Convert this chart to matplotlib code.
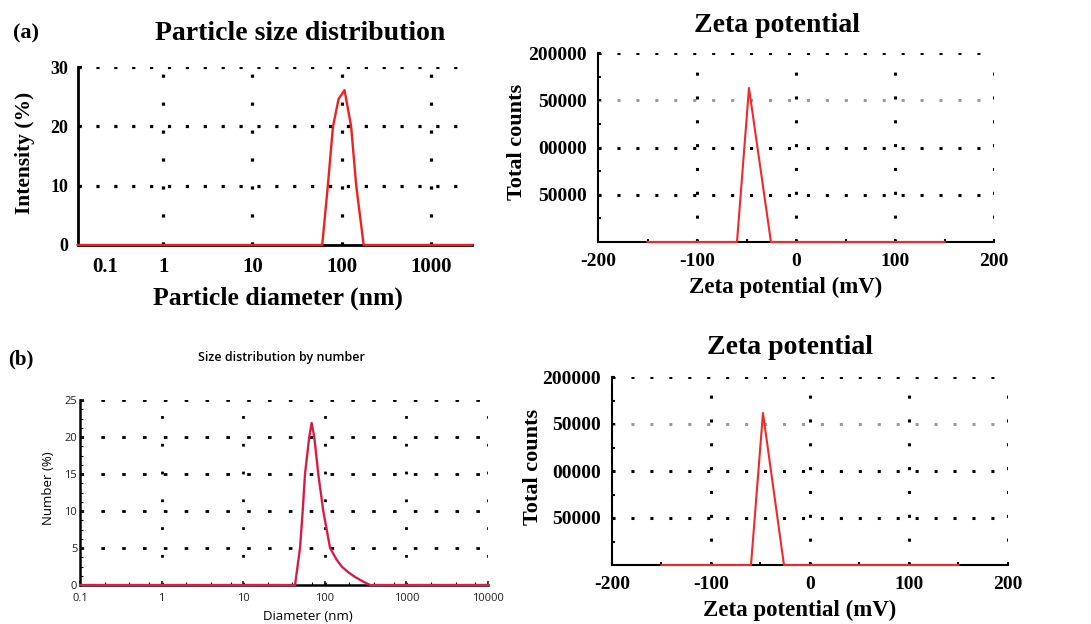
import numpy as np
import matplotlib
matplotlib.use("Agg")
import matplotlib.pyplot as plt
from matplotlib.ticker import FixedLocator, NullFormatter

plt.rcParams["axes.unicode_minus"] = False

# (a) particle size distribution by intensity
size_a = [0.11, 60.7, 70, 80, 92.5, 108, 128, 146, 177, 2900]
intensity_a = [0, 0, 9.8, 19.9, 24.6, 26.1, 20, 10, 0, 0]

# (b) size distribution by number
size_b = [0.1, 43.2, 49.7, 53.6, 57.2, 64.5, 69, 74.3, 83.2, 95.8, 116, 140, 161, 195, 234, 290, 360, 10000]
number_b = [0, 0, 5, 10, 15, 20, 21.9, 20, 15, 10, 5, 3.4, 2.5, 1.7, 1.1, 0.5, 0, 0]

# zeta potential curves
zeta_top = [-150, -59.6, -47.5, -25.3, 150]
counts_top = [0, 0, 163000, 0, 0]
zeta_bot = [-150, -59.6, -47.5, -26.3, 150]
counts_bot = [0, 0, 161700, 0, 0]

zeta_ticks = [-200, -100, 0, 100, 200]
count_ticks = [50000, 100000, 150000, 200000]
count_labels = ["50000", "00000", "50000", "200000"]

SERIF = "Liberation Serif"
SANS = "Open Sans"

fig = plt.figure(figsize=(10.91, 6.24), dpi=100)
W, H = 1091, 624


def box(l, t, r, b):
    return [l / W, 1 - b / H, (r - l) / W, (b - t) / H]


def ftext(x, y, s, **kw):
    fig.text(x / W, 1 - y / H, s, ha="center", va="center", **kw)


def dotted_grid(ax, xs, ys, hstyle, vstyle, lw=2.3, color="black"):
    for y in ys:
        ax.axhline(y, color=color, lw=lw, ls=hstyle, zorder=1)
    for x in xs:
        ax.axvline(x, color=color, lw=lw, ls=vstyle, zorder=1)


def clean(ax, lw):
    for s in ["top", "right"]:
        ax.spines[s].set_visible(False)
    for s in ["left", "bottom"]:
        ax.spines[s].set_linewidth(lw)
        ax.spines[s].set_zorder(2)


# ---------------- (a) ----------------
ax1 = fig.add_axes(box(78, 67, 472, 245))
ax1.set_xscale("log")
ax1.set_xlim(0.111, 2900)
ax1.set_ylim(0, 30)
dotted_grid(ax1, [1, 10, 100, 1000], [10, 20, 30], (0, (1, 4.6)), (0, (1, 7.75)))
ax1.plot(size_a, intensity_a, color="#ee2020", lw=1.7, zorder=3, clip_on=False)
clean(ax1, 2.0)
ax1.xaxis.set_major_locator(FixedLocator([1, 10, 100, 1000]))
ax1.xaxis.set_minor_locator(FixedLocator([]))
ax1.set_xticklabels(["1", "10", "100", "1000"])
ax1.set_yticks([0, 10, 20, 30])
ax1.tick_params(axis="x", length=0, pad=9, labelsize=15)
ax1.tick_params(axis="y", length=3, width=1.5, direction="in", pad=7, labelsize=13)
for lab in ax1.get_xticklabels() + ax1.get_yticklabels():
    lab.set_fontfamily(SERIF)
    lab.set_fontweight("bold")
ax1.text(0.069, -0.07, "0.1", transform=ax1.transAxes, ha="center", va="top",
         fontsize=15, fontfamily=SERIF, fontweight="bold")
ftext(26, 33, "(a)", fontsize=16, fontfamily=SERIF, fontweight="bold")
ftext(300, 33, "Particle size distribution", fontsize=20, fontfamily=SERIF, fontweight="bold")
ftext(25, 153, "Intensity (%)", fontsize=15.5, fontfamily=SERIF, fontweight="bold", rotation=90)
ftext(278, 298, "Particle diameter (nm)", fontsize=18.5, fontfamily=SERIF, fontweight="bold")


# ---------------- zeta panels ----------------
def zeta_panel(rect, xs, ys, title_xy, ylab_xy, xlab_xy):
    ax = fig.add_axes(rect)
    ax.set_xlim(-200, 200)
    ax.set_ylim(0, 200000)
    for y in count_ticks:
        c = "#9a9a9a" if y == 150000 else "black"
        ax.axhline(y, color=c, lw=2.2, ls=(0, (1, 5.2)), zorder=1)
    for x in [-100, 0, 100, 200]:
        ax.axvline(x, color="black", lw=2.2, ls=(0, (1, 6.8)), zorder=1)
    ax.plot(xs, ys, color="#ee2a2a", lw=1.5, zorder=3, clip_on=False)
    clean(ax, 1.5)
    ax.set_xticks(zeta_ticks)
    ax.set_xticks([-150, -50, 50, 150], minor=True)
    ax.set_yticks(count_ticks)
    ax.set_yticklabels(count_labels)
    ax.set_yticks([25000, 75000, 125000, 175000], minor=True)
    ax.tick_params(axis="both", which="major", length=2, width=1.5, direction="in",
                   labelsize=14)
    ax.tick_params(axis="both", which="minor", length=2, width=1.5, direction="in")
    ax.tick_params(axis="x", pad=8)
    ax.tick_params(axis="y", pad=8)
    for lab in ax.get_xticklabels() + ax.get_yticklabels():
        lab.set_fontfamily(SERIF)
        lab.set_fontweight("bold")
    ftext(*title_xy, "Zeta potential", fontsize=20, fontfamily=SERIF, fontweight="bold")
    ftext(*ylab_xy, "Total counts", fontsize=16, fontfamily=SERIF, fontweight="bold", rotation=90)
    ftext(*xlab_xy, "Zeta potential (mV)", fontsize=16.5, fontfamily=SERIF, fontweight="bold")
    return ax


zeta_panel(box(598, 53, 994, 242), zeta_top, counts_top, (777, 25), (517, 142), (786, 287))
zeta_panel(box(612, 377, 1008, 565), zeta_bot, counts_bot, (790, 347), (533, 467), (800, 610))

# ---------------- (b) ----------------
ax3 = fig.add_axes(box(80, 400, 488, 585))
ax3.set_xscale("log")
ax3.set_xlim(0.1, 10000)
ax3.set_ylim(0, 25)
dotted_grid(ax3, [1, 10, 100, 1000, 10000], [5, 10, 15, 20, 25],
            (0, (1.3, 6.2)), (0, (1, 9.0)), lw=2.0)
ax3.plot(size_b, number_b, color="#e8204e", lw=1.7, zorder=3, clip_on=False)
ax3.plot(size_b, number_b, color="#5a1020", lw=0.5, ls=(0, (1, 2)), zorder=4)
clean(ax3, 1.8)
ax3.xaxis.set_major_locator(FixedLocator([0.1, 1, 10, 100, 1000, 10000]))
ax3.xaxis.set_minor_locator(FixedLocator([0.2, 0.4, 0.7, 2, 4, 7, 20, 40, 70,
                                          200, 400, 700, 2000, 4000, 7000]))
ax3.xaxis.set_minor_formatter(NullFormatter())
ax3.set_xticklabels(["0.1", "1", "10", "100", "1000", "10000"])
ax3.set_yticks([0, 5, 10, 15, 20, 25])
ax3.set_yticks(np.arange(0, 25, 1.25), minor=True)
ax3.tick_params(axis="both", which="major", length=3, width=1.2, direction="in",
                labelsize=8, colors="#222222")
ax3.tick_params(axis="both", which="minor", length=2, width=0.8, direction="in")
ax3.tick_params(axis="x", pad=6)
ax3.tick_params(axis="y", pad=2)
for lab in ax3.get_xticklabels() + ax3.get_yticklabels():
    lab.set_fontfamily(SANS)
ftext(21, 359, "(b)", fontsize=15, fontfamily=SERIF, fontweight="bold")
ftext(281, 357, "Size distribution by number", fontsize=9, fontfamily=SANS, fontweight="semibold")
ftext(48, 488, "Number (%)", fontsize=9.5, fontfamily=SANS, rotation=90)
ftext(308, 617, "Diameter (nm)", fontsize=9.5, fontfamily=SANS)

fig.savefig("out.png", dpi=100)
